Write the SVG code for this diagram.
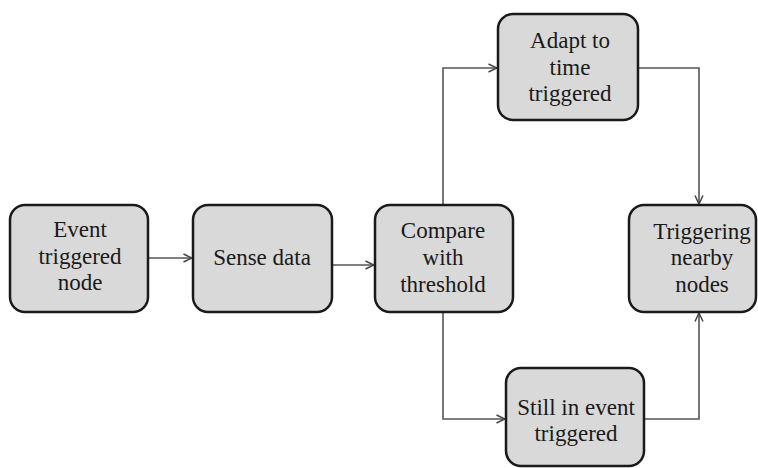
<svg xmlns="http://www.w3.org/2000/svg" width="758" height="468" viewBox="0 0 758 468">
<style>
.box{fill:#d9d9d9;stroke:#1a1a1a;stroke-width:2.5}
text{font-family:'Liberation Serif','Times New Roman',Tinos,'DejaVu Serif',serif;font-size:23px;fill:#1a1a1a;text-anchor:middle}
.c{fill:none;stroke:#555;stroke-width:1.6}
</style>
<defs>
<marker id="ah" viewBox="0 0 10 10" refX="9.5" refY="5" markerWidth="10" markerHeight="10" markerUnits="userSpaceOnUse" orient="auto">
<path d="M1,1 L9.5,5 L1,9" fill="none" stroke="#444" stroke-width="1.5"/>
</marker>
</defs>
<rect width="758" height="468" fill="#fff"/>
<g id="connectors">
<path class="c" d="M149,258 H192" marker-end="url(#ah)"/>
<path class="c" d="M332,265 H374" marker-end="url(#ah)"/>
<path class="c" d="M443,205 V68 H497" marker-end="url(#ah)"/>
<path class="c" d="M638,68 H699 V204" marker-end="url(#ah)"/>
<path class="c" d="M443,312 V419 H505" marker-end="url(#ah)"/>
<path class="c" d="M644,419 H699 V313" marker-end="url(#ah)"/>
</g>
<g id="n1">
<rect class="box" x="10" y="205" width="138" height="107" rx="15"/>
<text x="80" y="237" font-family="Liberation Serif, serif">Event</text>
<text x="80" y="264" font-family="Liberation Serif, serif">triggered</text>
<text x="80" y="290" font-family="Liberation Serif, serif">node</text>
</g>
<g id="n2">
<rect class="box" x="193" y="205" width="139" height="107" rx="15"/>
<text x="262" y="265" font-family="Liberation Serif, serif">Sense data</text>
</g>
<g id="n3">
<rect class="box" x="375" y="205" width="138" height="107" rx="15"/>
<text x="443" y="238" font-family="Liberation Serif, serif">Compare</text>
<text x="443" y="265" font-family="Liberation Serif, serif">with</text>
<text x="443" y="292" font-family="Liberation Serif, serif">threshold</text>
</g>
<g id="n4">
<rect class="box" x="498" y="14" width="140" height="106" rx="15"/>
<text x="570" y="48" font-family="Liberation Serif, serif">Adapt to</text>
<text x="570" y="75" font-family="Liberation Serif, serif">time</text>
<text x="570" y="101" font-family="Liberation Serif, serif">triggered</text>
</g>
<g id="n5">
<rect class="box" x="506" y="368" width="138" height="98" rx="15"/>
<text x="576" y="415" font-family="Liberation Serif, serif">Still in event</text>
<text x="576" y="441" font-family="Liberation Serif, serif">triggered</text>
</g>
<g id="n6">
<rect class="box" x="629" y="205" width="127" height="107" rx="15"/>
<text x="702" y="239" font-family="Liberation Serif, serif">Triggering</text>
<text x="702" y="265" font-family="Liberation Serif, serif">nearby</text>
<text x="702" y="292" font-family="Liberation Serif, serif">nodes</text>
</g>
</svg>
